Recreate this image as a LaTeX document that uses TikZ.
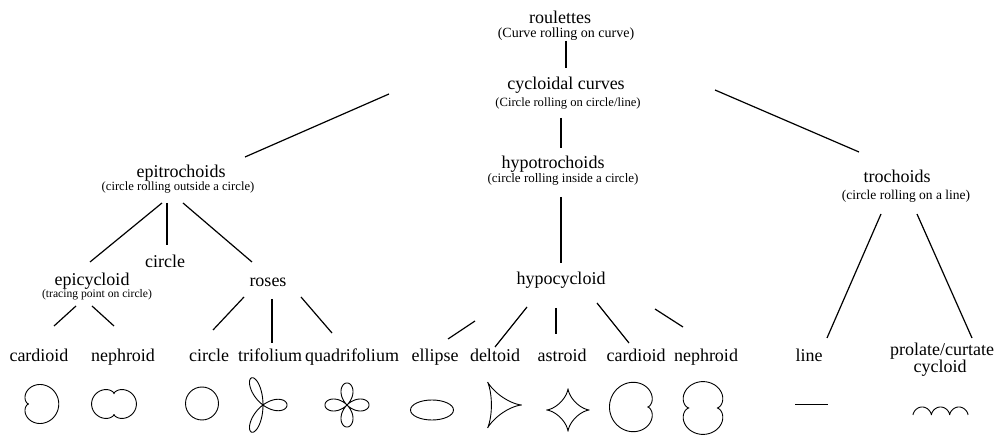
\documentclass[tikz,border=0pt]{standalone}
\usepackage{fontspec}
\setmainfont{Liberation Serif}
\begin{document}
\begin{tikzpicture}[x=1pt,y=-1pt,
  lbl/.style={inner sep=0pt,anchor=base,font=\fontsize{18}{20}\selectfont},
  sub/.style={inner sep=0pt,anchor=base,font=\fontsize{12.6}{14}\selectfont},
  conn/.style={line width=1.2pt},
  curve/.style={line width=0.9pt}]
\useasboundingbox (0,0) rectangle (1005,435);
% labels
\node[lbl] (roul) at (560,24) {roulettes};
\node[sub,font=\fontsize{14}{16}\selectfont] (roulsub) at (566,38) {(Curve rolling on curve)};
\node[lbl] (cyc) at (566,90) {cycloidal curves};
\node[sub] (cycsub) at (568,107) {(Circle rolling on circle/line)};
\node[lbl] (hypotro) at (553,169) {hypotrochoids};
\node[sub,font=\fontsize{13}{15}\selectfont] (hypotrosub) at (563,183) {(circle rolling inside a circle)};
\node[lbl] (epitro) at (181,178) {epitrochoids};
\node[sub] (epitrosub) at (178,191) {(circle rolling outside a circle)};
\node[lbl] (troch) at (897,183) {trochoids};
\node[sub,font=\fontsize{13.5}{15}\selectfont] (trochsub) at (906,200) {(circle rolling on a line)};
\node[lbl] (circ1) at (165,268) {circle};
\node[lbl] (epicyc) at (92,286) {epicycloid};
\node[sub,font=\fontsize{11.6}{13}\selectfont] (epicycsub) at (97,298) {(tracing point on circle)};
\node[lbl] (roses) at (268,287) {roses};
\node[lbl] (hypocyc) at (561,285) {hypocycloid};
\node[lbl] (card1) at (39,362) {cardioid};
\node[lbl] (neph1) at (123,362) {nephroid};
\node[lbl] (circ2) at (209,362) {circle};
\node[lbl] (trif) at (270,362) {trifolium};
\node[lbl] (quad) at (352,362) {quadrifolium};
\node[lbl] (ellip) at (435,362) {ellipse};
\node[lbl] (delt) at (495,362) {deltoid};
\node[lbl] (astr) at (562,362) {astroid};
\node[lbl] (card2) at (636,362) {cardioid};
\node[lbl] (neph2) at (706,362) {nephroid};
\node[lbl] (line) at (809,362) {line};
\node[lbl] (prol) at (942,356) {prolate/curtate};
\node[lbl] (prol2) at (940,373) {cycloid};
% connectors
\draw[conn] ([shift={(0,3)}]roulsub.base) -- ([shift={(0,-22)}]cyc.base);
\draw[conn] ([shift={(-179,-13)}]cycsub.base) -- ([shift={(64,-21)}]epitro.base);
\draw[conn] ([shift={(-7,11)}]cycsub.base) -- ([shift={(8,-21)}]hypotro.base);
\draw[conn] ([shift={(147,-17)}]cycsub.base) -- ([shift={(-38,-31)}]troch.base);
\draw[conn] ([shift={(-2,14)}]hypotrosub.base) -- ([shift={(0,-22)}]hypocyc.base);
\draw[conn] ([shift={(-16,12)}]epitrosub.base) -- ([shift={(-2,-24)}]epicyc.base);
\draw[conn] ([shift={(-11,12)}]epitrosub.base) -- ([shift={(2,-23)}]circ1.base);
\draw[conn] ([shift={(5,12)}]epitrosub.base) -- ([shift={(-16,-25)}]roses.base);
\draw[conn] ([shift={(-21,8)}]epicycsub.base) -- ([shift={(15,-36)}]card1.base);
\draw[conn] ([shift={(-5,8)}]epicycsub.base) -- ([shift={(-9,-36)}]neph1.base);
\draw[conn] ([shift={(-24,10)}]roses.base) -- ([shift={(4,-32)}]circ2.base);
\draw[conn] ([shift={(4,12)}]roses.base) -- ([shift={(2,-19)}]trif.base);
\draw[conn] ([shift={(33,10)}]roses.base) -- ([shift={(-20,-29)}]quad.base);
\draw[conn] ([shift={(-86,36)}]hypocyc.base) -- ([shift={(13,-23)}]ellip.base);
\draw[conn] ([shift={(-34,22)}]hypocyc.base) -- ([shift={(0,-15)}]delt.base);
\draw[conn] ([shift={(-5,23)}]hypocyc.base) -- ([shift={(-6,-28)}]astr.base);
\draw[conn] ([shift={(36,18)}]hypocyc.base) -- ([shift={(-7,-19)}]card2.base);
\draw[conn] ([shift={(94,24)}]hypocyc.base) -- ([shift={(-23,-35)}]neph2.base);
\draw[conn] ([shift={(-25,14)}]trochsub.base) -- ([shift={(18,-24)}]line.base);
\draw[conn] ([shift={(11,14)}]trochsub.base) -- ([shift={(30,-18)}]prol.base);
% curves
\draw[curve] plot[domain=0:360,samples=180] ({36.25-7.5*(2*cos(\x)-cos(2*\x))},{404+7.5*(2*sin(\x)-sin(2*\x))});
\draw[curve] plot[domain=0:360,samples=180] ({114+5.6*4*sin(\x)*sin(\x)*sin(\x)},{404+5.1*(3*cos(\x)-cos(3*\x))});
\draw[curve] (202,403.5) circle[radius=16.5];
\draw[curve] plot[domain=0:180,samples=240] ({263+24*cos(3*\x)*cos(\x)},{405-31*cos(3*\x)*sin(\x)});
\draw[curve] plot[domain=0:360,samples=300] ({347+22*cos(2*\x)*cos(\x)},{405-22*cos(2*\x)*sin(\x)});
\draw[curve] (432,410) ellipse[x radius=21.5,y radius=10];
\draw[curve] plot[domain=0:360,samples=240] ({499+7.6*(2*cos(\x)+cos(2*\x))},{405+8.85*(2*sin(\x)-sin(2*\x))});
\draw[curve] plot[domain=0:360,samples=240] ({568+21.5*cos(\x)*cos(\x)*cos(\x)},{410+21.5*sin(\x)*sin(\x)*sin(\x)});
\draw[curve] plot[domain=0:360,samples=180] ({638+9.5*(2*cos(\x)-cos(2*\x))},{407+9.5*(2*sin(\x)-sin(2*\x))});
\draw[curve] plot[domain=0:360,samples=180] ({703+7*(3*cos(\x)-cos(3*\x))},{408+6.6*4*sin(\x)*sin(\x)*sin(\x)});
\draw[curve] (795,404) -- (828,404);
\draw[curve] plot[domain=0:1080,samples=240] ({913+2.92*(\x*3.14159/180-sin(\x))},{415-4*(1-cos(\x))});
\end{tikzpicture}
\end{document}
